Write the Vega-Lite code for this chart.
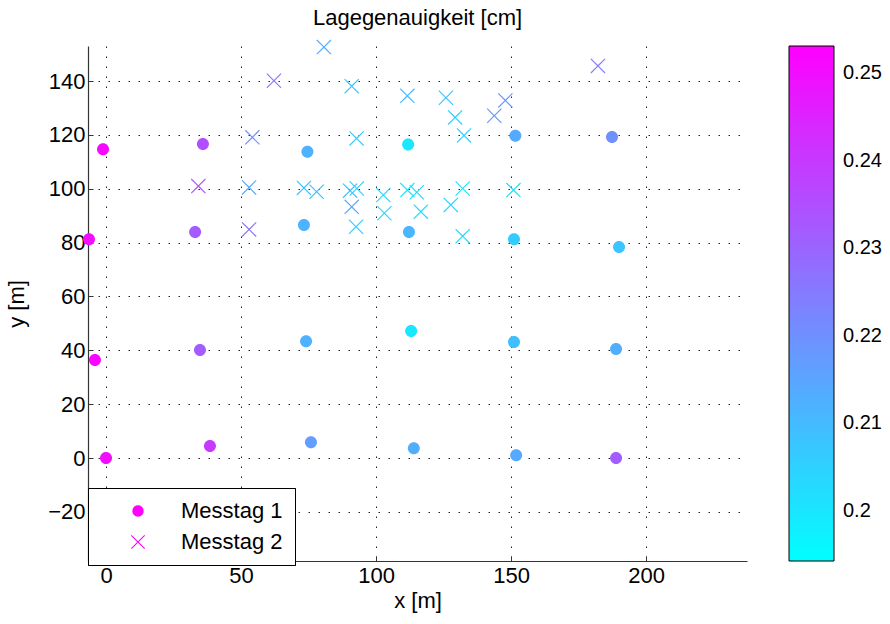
{
  "$schema": "https://vega.github.io/schema/vega-lite/v6.json",
  "width": 659,
  "height": 515,
  "autosize": {"type": "none"},
  "padding": {"left": 88, "top": 46, "right": 143, "bottom": 63},
  "background": "white",
  "config": {
    "font": "Liberation Sans",
    "view": {"stroke": null},
    "axis": {
      "labelFont": "Liberation Sans", "titleFont": "Liberation Sans",
      "labelFontSize": 22, "titleFontSize": 22, "titleFontWeight": "normal",
      "labelColor": "black", "titleColor": "black",
      "domainColor": "#333", "tickColor": "#333", "domainWidth": 1.2,
      "tickSize": -5,
      "gridColor": "#222", "gridDash": [1.5, 8.5], "gridWidth": 1, "gridOpacity": 1
    },
    "legend": {"labelFont": "Liberation Sans", "labelColor": "black"}
  },
  "title": {"text": "Lagegenauigkeit [cm]", "fontSize": 22, "fontWeight": "normal", "font": "Liberation Sans", "color": "black", "offset": 10, "frame": "group", "anchor": "middle"},
  "data": {"values": [
    {"x": -1.1, "y": 114.7, "v": 0.251, "day": "Messtag 1"},
    {"x": 35.9, "y": 116.6, "v": 0.235, "day": "Messtag 1"},
    {"x": -6.3, "y": 81.3, "v": 0.25, "day": "Messtag 1"},
    {"x": 33.0, "y": 83.9, "v": 0.232, "day": "Messtag 1"},
    {"x": -4.1, "y": 36.4, "v": 0.252, "day": "Messtag 1"},
    {"x": 34.8, "y": 40.1, "v": 0.232, "day": "Messtag 1"},
    {"x": 0.0, "y": 0.0, "v": 0.25, "day": "Messtag 1"},
    {"x": 38.5, "y": 4.5, "v": 0.24, "day": "Messtag 1"},
    {"x": 74.6, "y": 113.7, "v": 0.212, "day": "Messtag 1"},
    {"x": 73.3, "y": 86.5, "v": 0.212, "day": "Messtag 1"},
    {"x": 74.1, "y": 43.4, "v": 0.212, "day": "Messtag 1"},
    {"x": 75.9, "y": 5.9, "v": 0.217, "day": "Messtag 1"},
    {"x": 111.9, "y": 116.4, "v": 0.2, "day": "Messtag 1"},
    {"x": 112.2, "y": 83.9, "v": 0.211, "day": "Messtag 1"},
    {"x": 113.0, "y": 47.2, "v": 0.2, "day": "Messtag 1"},
    {"x": 114.0, "y": 3.7, "v": 0.213, "day": "Messtag 1"},
    {"x": 151.6, "y": 119.7, "v": 0.214, "day": "Messtag 1"},
    {"x": 151.1, "y": 81.3, "v": 0.206, "day": "Messtag 1"},
    {"x": 151.1, "y": 43.1, "v": 0.209, "day": "Messtag 1"},
    {"x": 151.9, "y": 1.1, "v": 0.214, "day": "Messtag 1"},
    {"x": 187.4, "y": 119.2, "v": 0.22, "day": "Messtag 1"},
    {"x": 190.0, "y": 78.4, "v": 0.208, "day": "Messtag 1"},
    {"x": 188.9, "y": 40.5, "v": 0.213, "day": "Messtag 1"},
    {"x": 188.9, "y": 0.0, "v": 0.232, "day": "Messtag 1"},
    {"x": 80.7, "y": 152.6, "v": 0.213, "day": "Messtag 2"},
    {"x": 62.2, "y": 140.1, "v": 0.226, "day": "Messtag 2"},
    {"x": 91.0, "y": 138.1, "v": 0.208, "day": "Messtag 2"},
    {"x": 111.6, "y": 134.5, "v": 0.21, "day": "Messtag 2"},
    {"x": 125.9, "y": 133.8, "v": 0.208, "day": "Messtag 2"},
    {"x": 129.3, "y": 126.5, "v": 0.206, "day": "Messtag 2"},
    {"x": 132.6, "y": 119.8, "v": 0.204, "day": "Messtag 2"},
    {"x": 143.8, "y": 127.1, "v": 0.218, "day": "Messtag 2"},
    {"x": 147.9, "y": 132.8, "v": 0.218, "day": "Messtag 2"},
    {"x": 182.2, "y": 145.6, "v": 0.225, "day": "Messtag 2"},
    {"x": 54.2, "y": 119.1, "v": 0.22, "day": "Messtag 2"},
    {"x": 92.8, "y": 118.7, "v": 0.207, "day": "Messtag 2"},
    {"x": 34.2, "y": 101.0, "v": 0.233, "day": "Messtag 2"},
    {"x": 53.0, "y": 100.5, "v": 0.214, "day": "Messtag 2"},
    {"x": 53.0, "y": 84.9, "v": 0.226, "day": "Messtag 2"},
    {"x": 73.3, "y": 100.3, "v": 0.209, "day": "Messtag 2"},
    {"x": 78.0, "y": 98.9, "v": 0.209, "day": "Messtag 2"},
    {"x": 90.4, "y": 99.3, "v": 0.208, "day": "Messtag 2"},
    {"x": 92.9, "y": 100.1, "v": 0.205, "day": "Messtag 2"},
    {"x": 91.0, "y": 93.3, "v": 0.215, "day": "Messtag 2"},
    {"x": 92.6, "y": 85.9, "v": 0.206, "day": "Messtag 2"},
    {"x": 102.7, "y": 97.7, "v": 0.203, "day": "Messtag 2"},
    {"x": 103.1, "y": 90.9, "v": 0.203, "day": "Messtag 2"},
    {"x": 111.6, "y": 99.5, "v": 0.2, "day": "Messtag 2"},
    {"x": 115.1, "y": 98.7, "v": 0.203, "day": "Messtag 2"},
    {"x": 116.6, "y": 91.5, "v": 0.203, "day": "Messtag 2"},
    {"x": 132.1, "y": 100.1, "v": 0.201, "day": "Messtag 2"},
    {"x": 127.7, "y": 94.0, "v": 0.205, "day": "Messtag 2"},
    {"x": 132.1, "y": 82.4, "v": 0.203, "day": "Messtag 2"},
    {"x": 150.9, "y": 99.5, "v": 0.202, "day": "Messtag 2"}
  ]},
  "encoding": {
    "x": {"field": "x", "type": "quantitative", "title": "x [m]",
      "scale": {"domain": [-6.67, 237.4], "nice": false, "zero": false},
      "axis": {"values": [0, 50, 100, 150, 200], "grid": true, "labelPadding": 9, "titlePadding": 4}},
    "y": {"field": "y", "type": "quantitative", "title": "y [m]",
      "scale": {"domain": [-38.2, 153], "nice": false, "zero": false},
      "axis": {"values": [-20, 0, 20, 40, 60, 80, 100, 120, 140], "grid": true, "labelPadding": 8, "titlePadding": 19}}
  },
  "layer": [
    {
      "mark": {"type": "point", "filled": true, "opacity": 1, "size": 225},
      "encoding": {
        "fill": {"field": "v", "type": "quantitative",
          "scale": {"domain": [0.1943, 0.2531], "range": ["#00ffff", "#ff00ff"], "interpolate": "rgb"},
          "legend": {"type": "gradient", "direction": "vertical", "orient": "none", "legendX": 701, "legendY": 0,
            "title": null, "values": [0.2, 0.21, 0.22, 0.23, 0.24, 0.25], "format": ".2~f",
            "gradientLength": 515, "gradientThickness": 45, "gradientStrokeColor": "black", "gradientStrokeWidth": 1,
            "labelFontSize": 20, "labelOffset": 9, "labelOverlap": false, "padding": 0}},
        "shape": {"field": "day", "type": "nominal",
          "scale": {"domain": ["Messtag 1", "Messtag 2"], "range": ["M0.8,0A0.8,0.8,0,1,1,-0.8,0A0.8,0.8,0,1,1,0.8,0Z", "M-1,-0.89L-0.89,-1L0,-0.11L0.89,-1L1,-0.89L0.11,0L1,0.89L0.89,1L0,0.11L-0.89,1L-1,0.89L-0.11,0Z"]},
          "legend": null}
      }
    },
    {
      "mark": {"type": "point", "filled": true, "opacity": 0, "size": 225},
      "encoding": {
        "color": {"field": "day", "type": "nominal",
          "scale": {"domain": ["Messtag 1", "Messtag 2"], "range": ["#ff00ff", "#00ffff"]},
          "legend": {"orient": "none", "legendX": 0, "legendY": 442, "title": null,
            "fillColor": "white", "strokeColor": "black", "padding": 12,
            "symbolOffset": 27, "labelOffset": 32, "labelFontSize": 22, "rowPadding": 9,
            "symbolSize": 200, "symbolOpacity": 1, "symbolStrokeWidth": 0, "symbolFillColor": "#ff00ff"}},
        "shape": {"field": "day", "type": "nominal",
          "scale": {"domain": ["Messtag 1", "Messtag 2"], "range": ["M0.8,0A0.8,0.8,0,1,1,-0.8,0A0.8,0.8,0,1,1,0.8,0Z", "M-1,-0.89L-0.89,-1L0,-0.11L0.89,-1L1,-0.89L0.11,0L1,0.89L0.89,1L0,0.11L-0.89,1L-1,0.89L-0.11,0Z"]},
          "legend": {"orient": "none", "legendX": 0, "legendY": 442, "title": null,
            "fillColor": "white", "strokeColor": "black", "padding": 12,
            "symbolOffset": 27, "labelOffset": 32, "labelFontSize": 22, "rowPadding": 9,
            "symbolSize": 200, "symbolOpacity": 1, "symbolStrokeWidth": 0, "symbolFillColor": "#ff00ff"}}
      }
    }
  ],
  "resolve": {"scale": {"shape": "independent"}}
}
